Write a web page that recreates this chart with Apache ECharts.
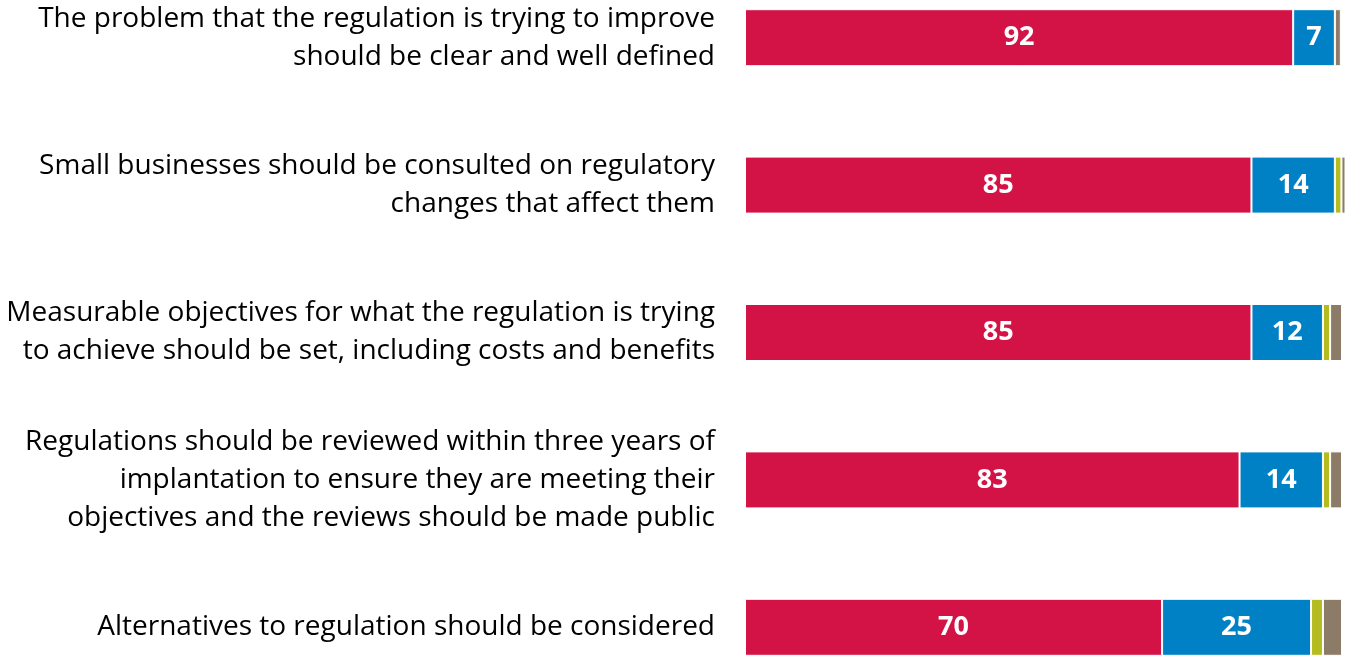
<!DOCTYPE html>
<html><head><meta charset="utf-8">
<script src="https://cdn.jsdelivr.net/npm/echarts@6/dist/echarts.min.js"></script>
<style>html,body{margin:0;padding:0;background:#fff;overflow:hidden;width:1345px;height:658px;position:relative}#c{position:absolute;left:0;top:-36px;width:1345px;height:737px}</style>
</head><body><div id="c"></div>
<script>
const categories = [
  "The problem that the regulation is trying to improve\nshould be clear and well defined",
  "Small businesses should be consulted on regulatory\nchanges that affect them",
  "Measurable objectives for what the regulation is trying\nto achieve should be set, including costs and benefits",
  "Regulations should be reviewed within three years of\nimplantation to ensure they are meeting their\nobjectives and the reviews should be made public",
  "Alternatives to regulation should be considered"
];
const seriesRed = [92, 85, 85, 83, 70];
const seriesBlue = [7, 14, 12, 14, 25];
const seriesOlive = [0, 1.1, 1.2, 1.2, 2];
const seriesBrown = [1, 0.7, 2, 2, 3.2];

const chart = echarts.init(document.getElementById('c'));
const font = '"Open Sans", Lato, sans-serif';
function mk(name, data, color, showLabel) {
  return {
    name, type: 'bar', stack: 'all', data, barWidth: 57,
    itemStyle: { color, borderColor: '#fff', borderWidth: 1 },
    label: { show: showLabel, position: 'inside', color: '#fff', fontWeight: 'bold', fontSize: 27, fontFamily: font },
    emphasis: { disabled: true }
  };
}
chart.setOption({
  animation: false,
  grid: { left: 745, right: 0, top: 0, bottom: 0, containLabel: false },
  xAxis: { type: 'value', min: 0, max: 100.7, show: false },
  yAxis: {
    type: 'category', data: categories, inverse: true,
    axisLine: { show: false }, axisTick: { show: false },
    axisLabel: { margin: 30, color: '#000', fontSize: 28, lineHeight: 38, fontFamily: font, align: 'right' }
  },
  series: [
    mk('a', seriesRed, '#D31245', true),
    mk('b', seriesBlue, '#0081C6', true),
    mk('c', seriesOlive, '#B4BC20', false),
    mk('d', seriesBrown, '#8C7B67', false)
  ]
});
</script></body></html>
